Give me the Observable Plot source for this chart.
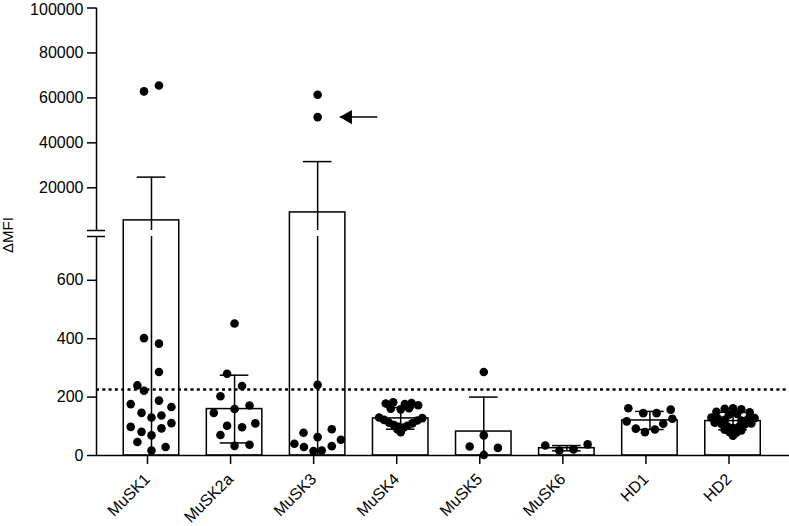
<!DOCTYPE html>
<html><head><meta charset="utf-8">
<script src="https://cdn.jsdelivr.net/npm/d3@7"></script>
<script src="https://cdn.jsdelivr.net/npm/@observablehq/plot@0.6"></script>
<style>body{margin:0;background:#fff}</style>
</head><body><div id="chart"></div>
<script>
// ---- data ----
const categories = ["MuSK1","MuSK2a","MuSK3","MuSK4","MuSK5","MuSK6","HD1","HD2"];
const means = [5500, 159, 9040, 127, 82, 25, 120, 118];
const sds   = [19250, 116, 22620, 37, 118, 9, 31, 30];

const musk1Values = [62900, 65540, 402, 383, 286, 240, 222, 176, 188, 166, 146, 130, 137, 111, 98, 81, 69, 93, 46, 29, 17];
const musk1Jitter = [-0.09, 0.09, -0.09, 0.09, 0.09, -0.17, -0.09, -0.25, 0.09, 0.24, -0.12, 0, 0.12, 0.24, -0.25, -0.12, 0, 0.12, -0.17, 0.17, 0];
const musk2aValues = [452, 280, 238, 203, 171, 159, 146, 110, 102, 97, 70, 33, 37];
const musk2aJitter = [0, -0.09, 0.09, -0.17, 0.18, 0, -0.25, 0.25, -0.09, 0.09, -0.17, 0, 0.18];
const musk3Values = [61400, 51460, 242, 78, 90, 63, 40, 29, 54, 32, 15, 17];
const musk3Jitter = [0, 0, 0, -0.17, 0.17, 0, -0.28, -0.165, 0.28, 0.17, -0.05, 0.05];
const musk4Values = [178, 182, 176, 180, 172, 160, 158, 162, 130, 128, 122, 120, 112, 110, 104, 102, 98, 96, 90, 86, 80];
const musk4Jitter = [-0.18, -0.09, 0.05, 0.13, 0.21, -0.12, 0, 0.1, -0.26, 0.26, -0.2, 0.2, -0.14, 0.14, -0.08, 0.08, -0.02, 0.04, -0.04, 0, 0];
const musk5Values = [286, 69, 31, 26, 2];
const musk5Jitter = [0, 0, -0.17, 0.17, 0];
const musk6Values = [34, 17, 21, 38];
const musk6Jitter = [-0.26, -0.09, 0.08, 0.25];
const hd1Values = [162, 145, 145, 157, 117, 126, 109, 92, 80, 89];
const hd1Jitter = [-0.26, -0.08, 0.08, 0.25, -0.28, 0.27, 0.16, -0.17, -0.06, 0.06];
const hd2Values = [160, 162, 158, 150, 148, 140, 142, 130, 128, 126, 125, 122, 120, 112, 110, 108, 106, 100, 98, 94, 88, 86, 80, 78, 68];
const hd2Jitter = [-0.1, 0, 0.1, -0.2, 0.2, -0.05, 0.05, -0.26, 0.26, -0.18, 0.18, -0.1, 0.1, -0.22, 0.22, -0.14, 0.14, -0.07, 0.07, 0, -0.1, 0.1, -0.04, 0.04, 0];

const thresholdValue = 226;
const yTicks = [0, 200, 400, 600, 20000, 40000, 60000, 80000, 100000];
const breakLow = 750, breakHigh = 1000, yMax = 100000;
const arrowValue = 51460, arrowFrom = 2.717, arrowTo = 2.267;
const yLabel = "ΔMFI";

// ---- derived tables ----
const groups = [[musk1Values, musk1Jitter],[musk2aValues, musk2aJitter],[musk3Values, musk3Jitter],[musk4Values, musk4Jitter],
  [musk5Values, musk5Jitter],[musk6Values, musk6Jitter],[hd1Values, hd1Jitter],[hd2Values, hd2Jitter]];
const dots = groups.flatMap(([vals, jit], i) => vals.map((v, k) => ({x: i + jit[k], value: v})));
const bars = categories.map((c, i) => ({i, mean: means[i], lo: Math.max(0, means[i] - sds[i]), hi: means[i] + sds[i]}));
const errSegs = bars.flatMap(b => (b.lo < breakLow && b.hi > breakHigh)
  ? [{i: b.i, y1: b.lo, y2: breakLow}, {i: b.i, y1: breakHigh, y2: b.hi}]
  : [{i: b.i, y1: b.lo, y2: b.hi}]);
const caps = bars.flatMap(b => b.lo > 0 ? [{i: b.i, y: b.hi}, {i: b.i, y: b.lo}] : [{i: b.i, y: b.hi}]);
const axisSegs = [{y1: 0, y2: breakLow}, {y1: breakHigh, y2: yMax}];
const topTick = yTicks[yTicks.length - 1];

const halfBar = 0.334, halfCap = 0.172;
const xDomain = [-0.662, 7.68];
const sw = 1.5;

const chart = Plot.plot({
  width: 789, height: 526,
  marginLeft: 96, marginRight: 0, marginTop: 8, marginBottom: 71,
  style: {fontFamily: "'Liberation Sans', Arial, sans-serif", fontSize: "16px", color: "black", background: "white"},
  x: {type: "linear", domain: xDomain, axis: null},
  y: {type: "linear", domain: [0, breakLow, breakHigh, yMax], range: [455, 236, 230, 7.5], axis: null},
  marks: [
    Plot.rectY(bars, {x1: d => d.i - halfBar, x2: d => d.i + halfBar, y1: d => 0, y2: "mean", fill: "white", stroke: "black", strokeWidth: sw}),
    Plot.ruleX(errSegs, {x: "i", y1: "y1", y2: "y2", stroke: "black", strokeWidth: sw}),
    Plot.ruleY(caps, {y: "y", x1: d => d.i - halfCap, x2: d => d.i + halfCap, stroke: "black", strokeWidth: sw}),
    Plot.ruleY([thresholdValue], {stroke: "black", strokeWidth: 2.7, strokeDasharray: "3 3.3"}),
    Plot.dot(dots, {x: "x", y: "value", r: 4.3, fill: "black"}),
    Plot.link([arrowValue], {x1: () => arrowFrom, x2: () => arrowTo, y1: d => d, y2: d => d, stroke: "black", strokeWidth: sw}),
    Plot.dot([arrowValue], {x: () => arrowTo, y: d => d, symbol: "triangle", r: 5.3, rotate: -90, dx: 8, fill: "black"}),
    // axes
    Plot.ruleX(axisSegs, {x: () => xDomain[0], y1: "y1", y2: "y2", stroke: "black", strokeWidth: sw}),
    Plot.ruleY([breakLow, breakHigh], {x1: () => xDomain[0], x2: () => xDomain[0], insetLeft: -9, insetRight: -9, stroke: "black", strokeWidth: sw}),
    Plot.ruleY([0], {stroke: "black", strokeWidth: sw}),
    Plot.axisY({ticks: yTicks, tickFormat: d => d === topTick ? "" : String(d), tickSize: 9, tickPadding: 4, fontSize: 16, strokeWidth: sw, label: null}),
    Plot.axisY({ticks: [topTick], tickFormat: d => String(d), tickSize: 9, tickPadding: 4, stroke: "none", dy: 2, fontSize: 16, label: null}),
    Plot.axisX({ticks: d3.range(categories.length), tickFormat: i => categories[i], tickRotate: -45, tickSize: 9, tickPadding: 12, dx: -4, fontSize: 16, strokeWidth: sw, label: null}),
    Plot.text([yLabel], {text: d => d, frameAnchor: "left", textAnchor: "middle", rotate: -90, dx: -88, dy: 3, fontSize: 15})
  ]
});
document.getElementById("chart").appendChild(chart);
</script>
</body></html>
